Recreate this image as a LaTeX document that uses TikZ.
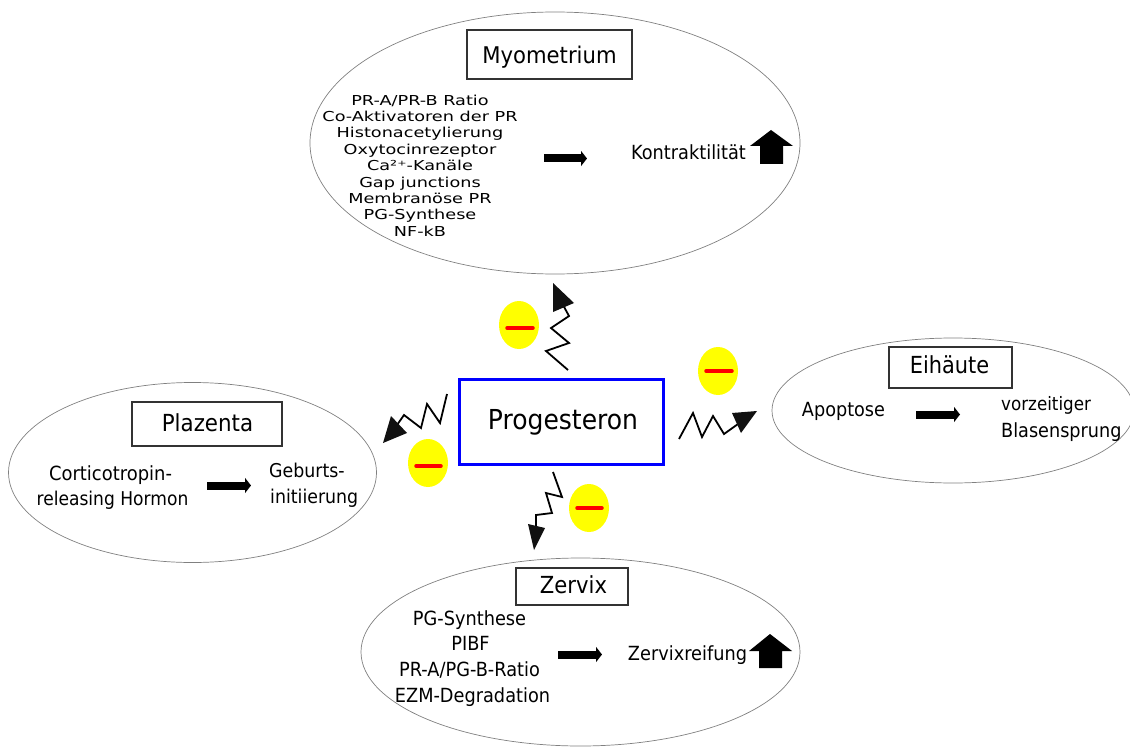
\documentclass[tikz,border=0pt]{standalone}
\usepackage{fontspec}
\setmainfont{DejaVu Sans}
\usetikzlibrary{shapes.geometric,arrows.meta}
\definecolor{tipblack}{HTML}{111111}
\definecolor{discyellow}{HTML}{FFFF00}
\definecolor{barred}{HTML}{FF0000}
\definecolor{boxblue}{HTML}{0000FF}
\tikzset{
  organ/.style={draw=black!50,line width=0.7pt,ellipse,inner sep=0,fill=none},
  titlebox/.style={draw=black!80,line width=1.1pt,inner sep=0,fill=white},
  lab/.style args={#1/#2}{inner sep=0,anchor=base,transform shape,xscale=#2,font=\fontsize{#1}{#1}\selectfont},
  labw/.style args={#1/#2}{inner sep=0,anchor=base west,transform shape,xscale=#2,font=\fontsize{#1}{#1}\selectfont},
  list/.style={inner sep=0,align=center,transform shape,xscale=1.29,font=\fontsize{13.7}{16.4}\selectfont},
  blockarrow/.style={line width=8pt,-{Triangle[length=6pt,width=15pt]},black},
  zig/.style={line width=1.8pt,black,line join=miter},
  head/.style={fill=tipblack,draw=none},
  minusdisc/.style={fill=discyellow,draw=none,ellipse,minimum width=40pt,minimum height=48pt,inner sep=0},
  minusbar/.style={draw=barred,line width=3.5pt,line cap=round},
  uparrow/.style={fill=black,draw=none},
}
\begin{document}
\begin{tikzpicture}[x=1pt,y=-1pt]
\useasboundingbox (0,0) rectangle (1130,749);
% ellipses
\node[organ,minimum width=490pt,minimum height=262pt] (myo) at (555,143) {};
\node[organ,minimum width=368pt,minimum height=180pt] (pla) at (192.5,472.5) {};
\node[organ,minimum width=362pt,minimum height=145pt] (eih) at (953,410.5) {};
\node[organ,minimum width=439pt,minimum height=188pt] (zer) at (580.5,652) {};
% title boxes
\node[titlebox,minimum width=165pt,minimum height=49pt] (myot) at (549.5,54.5) {};
\node[lab=23/0.92] (myol) at (549.5,64) {Myometrium};
\node[titlebox,minimum width=150pt,minimum height=44pt] (plat) at (207,424) {};
\node[lab=23.5/0.91] (plal) at (207.5,431) {Plazenta};
\node[titlebox,minimum width=123pt,minimum height=41pt] (eiht) at (950.5,367.5) {};
\node[lab=23.5/0.89] (eihl) at (949.5,373) {Eihäute};
\node[titlebox,minimum width=112pt,minimum height=37pt] (zert) at (572,586.5) {};
\node[lab=23.5/0.9] (zerl) at (573.5,593) {Zervix};
% centre
\node[draw=boxblue,line width=3pt,inner sep=0,minimum width=204pt,minimum height=85pt] (prog) at (561,421.5) {};
\node[lab=27.5/0.91] (progl) at (563,429) {Progesteron};
% Myometrium content
\node[list] (myolist) at (420,165.5) {PR-A/PR-B Ratio\\Co-Aktivatoren der PR\\Histonacetylierung\\Oxytocinrezeptor\\Ca²⁺-Kanäle\\Gap junctions\\Membranöse PR\\PG-Synthese\\NF-kB};
\coordinate (a1s) at (544,158.5); \coordinate (a1e) at (587,158.5);
\draw[blockarrow] (a1s) -- (a1e);
\node[lab=19.5/0.91] (kon) at (688.5,160) {Kontraktilität};
\path[uparrow] (771,130) -- (793,146) -- (783,146) -- (783,164) -- (760,164) -- (760,146) -- (750,146) -- cycle;
% Plazenta content
\node[lab=19.5/0.92] (crh1) at (110.5,480) {Corticotropin-};
\node[lab=19/0.9] (crh2) at (112.5,505) {releasing Hormon};
\coordinate (a2s) at (207,485.5); \coordinate (a2e) at (251,485.5);
\draw[blockarrow] (a2s) -- (a2e);
\node[labw=19/0.915] (geb1) at (269,477) {Geburts-};
\node[labw=19/0.915] (geb2) at (270,503) {initiierung};
% Eihaeute content
\node[lab=19.5/0.905] (apo) at (843.5,416) {Apoptose};
\coordinate (a3s) at (916,414.5); \coordinate (a3e) at (960,414.5);
\draw[blockarrow] (a3s) -- (a3e);
\node[labw=18.5/0.905] (vor) at (1001,410) {vorzeitiger};
\node[labw=19.5/0.905] (bla) at (1001,437) {Blasensprung};
% Zervix content
\node[lab=19.5/0.91] (z1) at (469.5,625) {PG-Synthese};
\node[lab=19.5/0.91] (z2) at (470.5,650) {PIBF};
\node[lab=19.5/0.91] (z3) at (469.5,676) {PR-A/PG-B-Ratio};
\node[lab=19.5/0.91] (z4) at (472.5,702) {EZM-Degradation};
\coordinate (a4s) at (558,654.5); \coordinate (a4e) at (602,654.5);
\draw[blockarrow] (a4s) -- (a4e);
\node[lab=19.5/0.91] (zre) at (687.5,660) {Zervixreifung};
\path[uparrow] (770,634) -- (792,651) -- (782,651) -- (782,668) -- (759,668) -- (759,651) -- (749,651) -- cycle;
% zigzag connectors
\coordinate (zts) at (568,370); \coordinate (zte) at (563,305);
\draw[zig] (zts) -- (546,351) -- (569,343) -- (551,328) -- (569,316) -- (zte);
\path[head] (553,283) -- (574,303) -- (553,312) -- cycle;
\coordinate (zls) at (447,394); \coordinate (zle) at (397,425);
\draw[zig] (zls) -- (440,423) -- (427,404) -- (421,428) -- (404,415) -- (zle);
\path[head] (383,443) -- (391,416) -- (407,433) -- cycle;
\coordinate (zbs) at (553,472); \coordinate (zbe) at (536,527);
\draw[zig] (zbs) -- (562,497) -- (546,493) -- (552,513) -- (536,515) -- (zbe);
\path[head] (534,550) -- (528,524) -- (545,528) -- cycle;
\coordinate (zrs) at (679,439); \coordinate (zre2) at (738,424);
\draw[zig] (zrs) -- (693,413) -- (702,437) -- (713,416) -- (724,434) -- (zre2);
\path[head] (757,411) -- (732,413) -- (741,433) -- cycle;
% minus discs
\node[minusdisc] (m1) at (519,325) {};
\draw[minusbar] (507,328) -- (533,328);
\node[minusdisc] (m2) at (718,371) {};
\draw[minusbar] (706,371) -- (732,371);
\node[minusdisc] (m3) at (428,463) {};
\draw[minusbar] (416,466) -- (441,466);
\node[minusdisc] (m4) at (589,508) {};
\draw[minusbar] (577,508) -- (602,508);
\end{tikzpicture}
\end{document}
